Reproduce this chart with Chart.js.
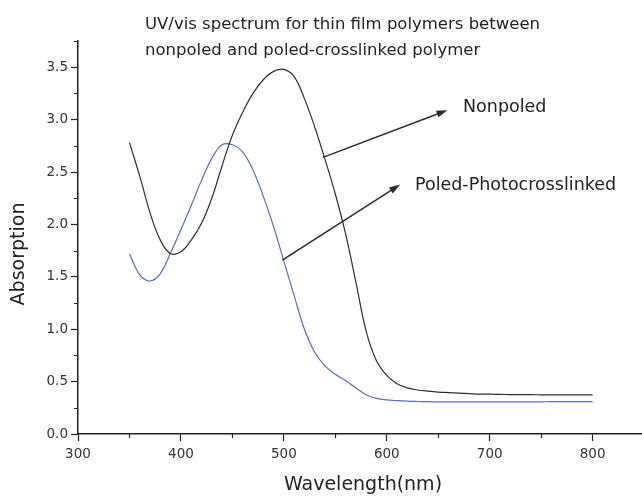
<!DOCTYPE html>
<html>
<head>
<meta charset="utf-8">
<script src="https://cdn.jsdelivr.net/npm/chart.js@4"></script>
<style>
  html, body { margin: 0; padding: 0; background: #fff; }
  #wrap { width: 642px; height: 496px; }
</style>
</head>
<body>
<div id="wrap"><canvas id="espectro" width="642" height="496"></canvas></div>
<script>
// comprimentos de onda (nm) e absorcao
const comprimentos = [350, 360, 370, 380, 390, 400, 410, 420, 430, 440, 450, 460, 470, 480, 490, 500,
  510, 520, 530, 540, 550, 560, 570, 580, 590, 600, 610, 620, 630, 640, 650, 660, 670, 680, 690, 700,
  710, 720, 730, 740, 750, 760, 770, 780, 790, 800];
const naoPolarizado = [2.78, 2.46, 2.11, 1.85, 1.72, 1.74, 1.85, 2.01, 2.25, 2.56, 2.85, 3.07, 3.25, 3.38, 3.46, 3.48,
  3.41, 3.20, 2.93, 2.62, 2.29, 1.91, 1.45, 0.98, 0.70, 0.56, 0.48, 0.44, 0.42, 0.41, 0.40, 0.395, 0.39, 0.385, 0.38, 0.38,
  0.378, 0.376, 0.375, 0.375, 0.374, 0.374, 0.374, 0.373, 0.373, 0.373];
const polarizado = [1.72, 1.52, 1.46, 1.53, 1.73, 1.95, 2.18, 2.42, 2.63, 2.76, 2.76, 2.69, 2.52, 2.27, 1.98, 1.65,
  1.32, 1.00, 0.78, 0.65, 0.57, 0.51, 0.44, 0.375, 0.34, 0.325, 0.318, 0.313, 0.31, 0.308, 0.307, 0.306, 0.306, 0.306, 0.306, 0.306,
  0.306, 0.306, 0.307, 0.307, 0.307, 0.308, 0.308, 0.308, 0.308, 0.308];
const ticksX = [300, 350, 400, 450, 500, 550, 600, 650, 700, 750, 800];
const ticksY = [0, 0.25, 0.5, 0.75, 1, 1.25, 1.5, 1.75, 2, 2.25, 2.5, 2.75, 3, 3.25, 3.5, 3.75];
const titulo = ['UV/vis spectrum for thin film polymers between', 'nonpoled and poled-crosslinked polymer'];
const rotulos = ['Nonpoled', 'Poled-Photocrosslinked'];

// setas das anotacoes, em coordenadas de dados
const setas = [
  { de: [538, 2.64], para: [659, 3.09] },
  { de: [498.5, 1.66], para: [613, 2.38] }
];

const fonte = 'DejaVu Sans';
const corTexto = '#222';
const ehMaiorX = v => v % 100 === 0;
const ehMaiorY = v => Math.abs(v * 2 - Math.round(v * 2)) < 1e-6;

const anotacoes = {
  id: 'anotacoes',
  afterDraw(chart) {
    const ctx = chart.ctx;
    const sx = chart.scales.x, sy = chart.scales.y;
    ctx.save();

    // ticks menores
    ctx.strokeStyle = '#222';
    ctx.lineWidth = 1.2;
    ctx.beginPath();
    ticksX.filter(v => !ehMaiorX(v)).forEach(v => {
      const px = Math.round(sx.getPixelForValue(v)) + 0.5;
      ctx.moveTo(px, sx.top);
      ctx.lineTo(px, sx.top + 4);
    });
    ticksY.filter(v => !ehMaiorY(v)).forEach(v => {
      const py = Math.round(sy.getPixelForValue(v)) + 0.5;
      ctx.moveTo(sy.right, py);
      ctx.lineTo(sy.right - 4, py);
    });
    ctx.stroke();

    // setas
    ctx.strokeStyle = '#2a2a2a';
    ctx.fillStyle = '#2a2a2a';
    ctx.lineWidth = 1.5;
    setas.forEach(s => {
      const x1 = sx.getPixelForValue(s.de[0]), y1 = sy.getPixelForValue(s.de[1]);
      const x2 = sx.getPixelForValue(s.para[0]), y2 = sy.getPixelForValue(s.para[1]);
      const ang = Math.atan2(y2 - y1, x2 - x1);
      ctx.beginPath();
      ctx.moveTo(x1, y1);
      ctx.lineTo(x2 - 8 * Math.cos(ang), y2 - 8 * Math.sin(ang));
      ctx.stroke();
      ctx.beginPath();
      ctx.moveTo(x2, y2);
      ctx.lineTo(x2 - 11 * Math.cos(ang) + 3.5 * Math.sin(ang), y2 - 11 * Math.sin(ang) - 3.5 * Math.cos(ang));
      ctx.lineTo(x2 - 11 * Math.cos(ang) - 3.5 * Math.sin(ang), y2 - 11 * Math.sin(ang) + 3.5 * Math.cos(ang));
      ctx.closePath();
      ctx.fill();
    });

    // textos
    ctx.fillStyle = corTexto;
    ctx.textBaseline = 'alphabetic';
    ctx.textAlign = 'left';
    ctx.font = '16.5px "' + fonte + '"';
    ctx.fillText(titulo[0], 145, 29);
    ctx.fillText(titulo[1], 145, 55);

    ctx.font = '17.5px "' + fonte + '"';
    ctx.fillText(rotulos[0], 463, 112);
    ctx.fillText(rotulos[1], 415, 190);

    ctx.font = '19px "' + fonte + '"';
    ctx.textAlign = 'center';
    ctx.fillText('Wavelength(nm)', 363, 490);
    ctx.translate(24, 254);
    ctx.rotate(-Math.PI / 2);
    ctx.fillText('Absorption', 0, 0);
    ctx.restore();
  }
};

new Chart(document.getElementById('espectro'), {
  type: 'line',
  data: {
    datasets: [{
      label: rotulos[0],
      data: comprimentos.map((w, i) => ({ x: w, y: naoPolarizado[i] })),
      borderColor: '#2e2e2e',
      borderWidth: 1.2,
      pointRadius: 0,
      tension: 0.4,
      fill: false
    }, {
      label: rotulos[1],
      data: comprimentos.map((w, i) => ({ x: w, y: polarizado[i] })),
      borderColor: '#5a6cc4',
      borderWidth: 1.2,
      pointRadius: 0,
      tension: 0.4,
      fill: false
    }]
  },
  options: {
    responsive: false,
    animation: false,
    devicePixelRatio: 1,
    layout: { padding: { top: 41, right: 0, left: 0, bottom: 0 } },
    plugins: { legend: { display: false }, tooltip: { enabled: false }, title: { display: false } },
    scales: {
      x: {
        type: 'linear',
        min: 300,
        max: 848,
        afterBuildTicks: s => { s.ticks = ticksX.map(v => ({ value: v })); },
        afterFit: s => { s.height = 62; },
        ticks: {
          autoSkip: false,
          maxRotation: 0,
          padding: 5,
          color: '#333',
          font: { family: fonte, size: 13.5 },
          callback: v => ehMaiorX(v) ? String(v) : ''
        },
        grid: {
          drawOnChartArea: false,
          tickLength: 7,
          tickWidth: 1.2,
          tickColor: c => (c.tick && ehMaiorX(c.tick.value)) ? '#222' : 'rgba(0,0,0,0)'
        },
        border: { color: '#222', width: 1.5 }
      },
      y: {
        min: 0,
        max: 3.75,
        afterBuildTicks: s => { s.ticks = ticksY.map(v => ({ value: v })); },
        afterFit: s => { s.width = 78; },
        ticks: {
          autoSkip: false,
          padding: 3,
          color: '#333',
          font: { family: fonte, size: 13.5 },
          callback: v => ehMaiorY(v) ? v.toFixed(1) : ''
        },
        grid: {
          drawOnChartArea: false,
          tickLength: 7,
          tickWidth: 1.2,
          tickColor: c => (c.tick && ehMaiorY(c.tick.value)) ? '#222' : 'rgba(0,0,0,0)'
        },
        border: { color: '#222', width: 1.5 }
      }
    }
  },
  plugins: [anotacoes]
});
</script>
</body>
</html>
